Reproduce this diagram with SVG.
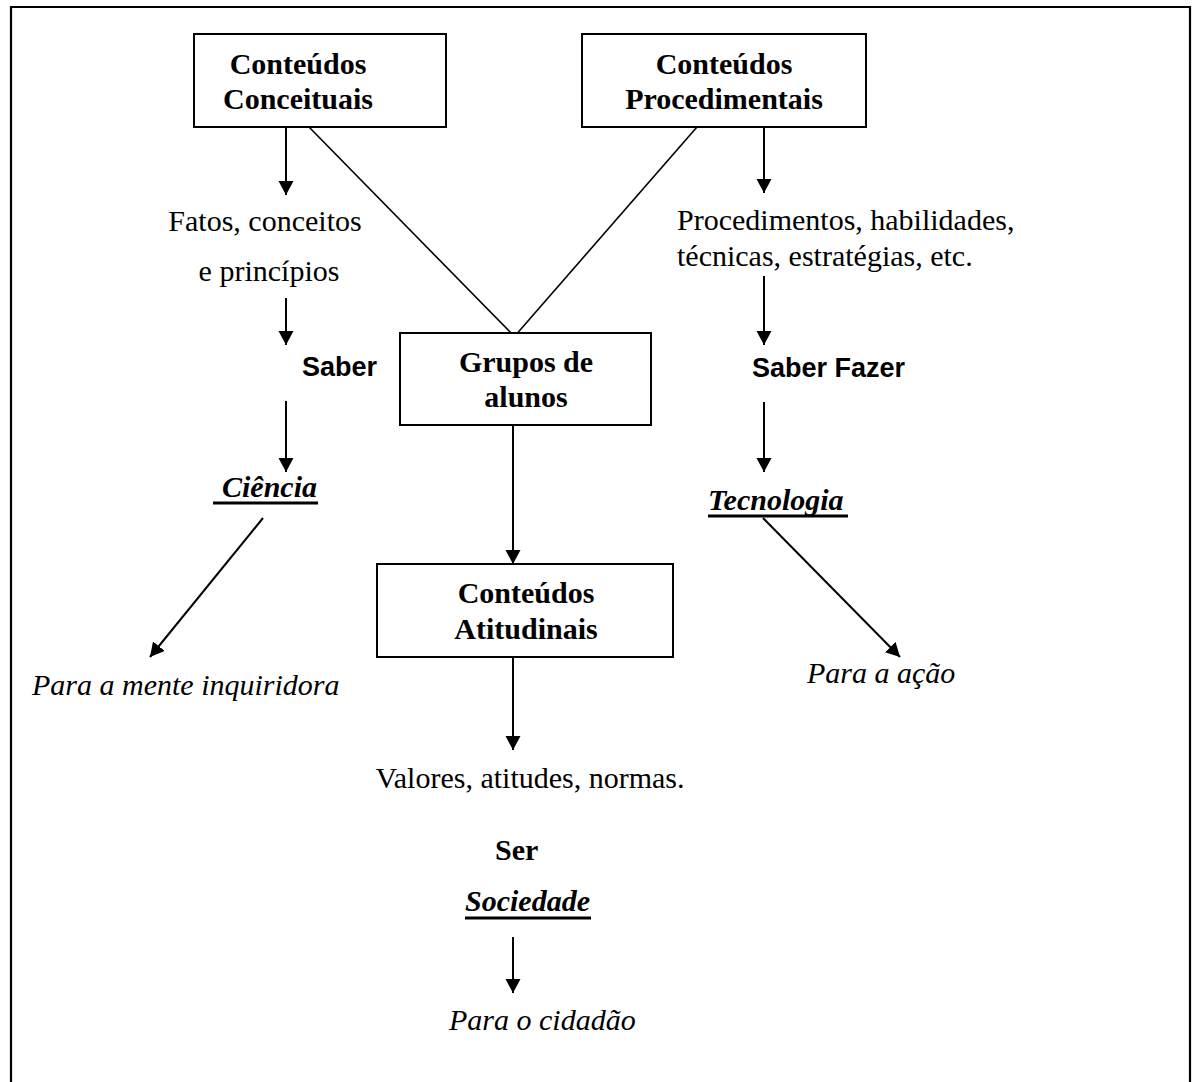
<svg xmlns="http://www.w3.org/2000/svg" width="1195" height="1082" viewBox="0 0 1195 1082">
  <defs>
    <marker id="arrow" markerUnits="userSpaceOnUse" markerWidth="16" markerHeight="16" refX="14" refY="7.5" orient="auto">
      <path d="M0,0 L14,7.5 L0,15 z" fill="#000"/>
    </marker>
    <style>
      .box { fill: #fff; stroke: #000; stroke-width: 2; }
      .title { font-family: "Liberation Serif", "Times New Roman", serif; font-weight: bold; font-size: 30px; fill: #000; text-anchor: middle; }
      .plain { font-family: "Liberation Serif", "Times New Roman", serif; font-size: 30px; fill: #000; }
      .ital { font-family: "Liberation Serif", "Times New Roman", serif; font-style: italic; font-size: 30px; fill: #000; }
      .bi { font-family: "Liberation Serif", "Times New Roman", serif; font-style: italic; font-weight: bold; font-size: 30px; fill: #000; }
      .sans { font-family: "Liberation Sans", Arial, sans-serif; font-weight: bold; font-size: 27px; fill: #000; }
      .serifb { font-family: "Liberation Serif", "Times New Roman", serif; font-weight: bold; font-size: 30px; fill: #000; }
      .arr { stroke: #000; stroke-width: 2; fill: none; marker-end: url(#arrow); }
      .link { stroke: #000; stroke-width: 1.6; fill: none; }
      .ul { stroke: #000; stroke-width: 3; }
    </style>
  </defs>

  <rect width="1195" height="1082" fill="#fff"/>
  <!-- page frame (bottom edge runs off the page) -->
  <path d="M11,1090 L11,7 L1190,7 L1190,1090" fill="none" stroke="#000" stroke-width="2.2"/>

  <!-- connectors -->
  <g id="connectors">
    <line class="link" x1="309" y1="127" x2="511" y2="333"/>
    <line class="link" x1="697" y1="127" x2="514" y2="337"/>
    <line class="arr" x1="286" y1="127" x2="286" y2="195"/>
    <line class="arr" x1="286" y1="298" x2="286" y2="345"/>
    <line class="arr" x1="286" y1="401" x2="286" y2="472"/>
    <line class="arr" x1="263" y1="518" x2="150" y2="657"/>
    <line class="arr" x1="764" y1="127" x2="764" y2="193"/>
    <line class="arr" x1="764" y1="276" x2="764" y2="345"/>
    <line class="arr" x1="764" y1="402" x2="764" y2="472"/>
    <line class="arr" x1="763" y1="518" x2="900" y2="657"/>
    <line class="arr" x1="513" y1="425" x2="513" y2="564"/>
    <line class="arr" x1="513" y1="657" x2="513" y2="750"/>
    <line class="arr" x1="513" y1="937" x2="513" y2="993"/>
  </g>

  <!-- boxes -->
  <g id="conceituais">
    <rect class="box" x="194" y="34" width="252" height="93"/>
    <text class="title" x="298" y="74">Conteúdos</text>
    <text class="title" x="298" y="109">Conceituais</text>
  </g>
  <g id="procedimentais">
    <rect class="box" x="582" y="34" width="284" height="93"/>
    <text class="title" x="724" y="74">Conteúdos</text>
    <text class="title" x="724" y="109">Procedimentais</text>
  </g>
  <g id="grupos">
    <rect class="box" x="400" y="333" width="251" height="92"/>
    <text class="title" x="526" y="372">Grupos de</text>
    <text class="title" x="526" y="407">alunos</text>
  </g>
  <g id="atitudinais">
    <rect class="box" x="377" y="564" width="296" height="93"/>
    <text class="title" x="526" y="603">Conteúdos</text>
    <text class="title" x="526" y="639">Atitudinais</text>
  </g>

  <!-- left branch -->
  <g id="fatos">
    <text class="plain" x="265" y="231" text-anchor="middle">Fatos, conceitos</text>
    <text class="plain" x="269" y="281" text-anchor="middle">e princípios</text>
  </g>
  <g id="saber">
    <text class="sans" x="302" y="376">Saber</text>
  </g>
  <g id="ciencia">
    <text class="bi" x="222" y="497">Ciência</text>
    <line class="ul" x1="213" y1="503" x2="318" y2="503"/>
  </g>
  <g id="mente">
    <text class="ital" x="32" y="695">Para a mente inquiridora</text>
  </g>

  <!-- right branch -->
  <g id="procedimentos">
    <text class="plain" x="677" y="230">Procedimentos, habilidades,</text>
    <text class="plain" x="677" y="266">técnicas, estratégias, etc.</text>
  </g>
  <g id="saber-fazer">
    <text class="sans" x="752" y="377">Saber Fazer</text>
  </g>
  <g id="tecnologia">
    <text class="bi" x="708" y="510">Tecnologia</text>
    <line class="ul" x1="708" y1="516" x2="848" y2="516"/>
  </g>
  <g id="acao">
    <text class="ital" x="807" y="683">Para a ação</text>
  </g>

  <!-- middle branch -->
  <g id="valores">
    <text class="plain" x="530" y="788" text-anchor="middle">Valores, atitudes, normas.</text>
  </g>
  <g id="ser">
    <text class="serifb" x="495" y="860">Ser</text>
  </g>
  <g id="sociedade">
    <text class="bi" x="465" y="911">Sociedade</text>
    <line class="ul" x1="465" y1="918" x2="591" y2="918"/>
  </g>
  <g id="cidadao">
    <text class="ital" x="449" y="1030">Para o cidadão</text>
  </g>
</svg>
